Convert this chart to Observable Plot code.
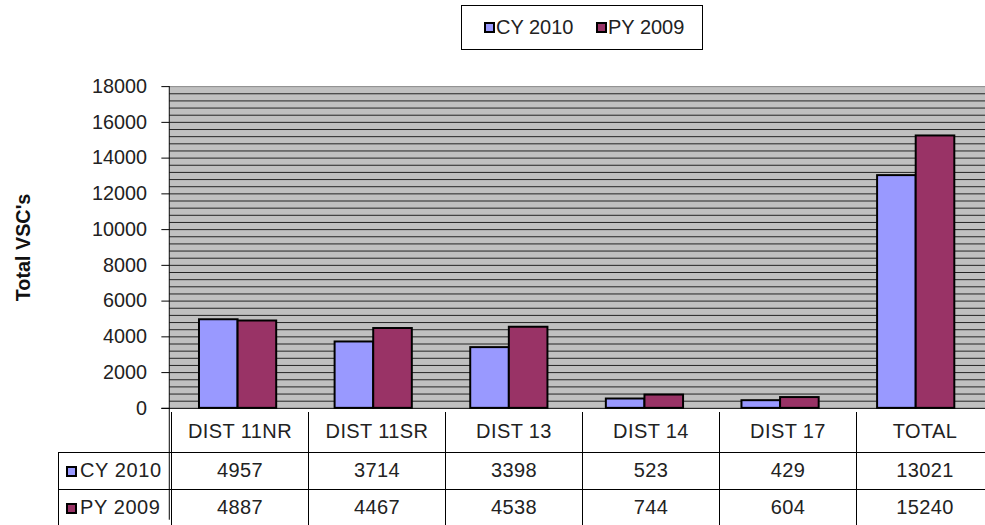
<!DOCTYPE html>
<html>
<head>
<meta charset="utf-8">
<script src="https://cdn.jsdelivr.net/npm/d3@7"></script>
<script src="https://cdn.jsdelivr.net/npm/@observablehq/plot@0.6"></script>
<style>
  html, body { margin: 0; padding: 0; overflow: hidden; background: #fff; }
  #wrap { position: relative; width: 985px; height: 525px; overflow: hidden; font-family: "Liberation Sans", Arial, sans-serif; color: #222; }
  #chart { position: absolute; left: 0; top: 0; }
  #legend { position: absolute; left: 461px; top: 5px; width: 240px; height: 43px; border: 1px solid #000; box-sizing: content-box; font-size: 20px; }
  .li { position: absolute; top: 10px; display: flex; align-items: center; white-space: nowrap; }
  .sw { width: 7px; height: 7px; border: 2px solid #000; margin-right: 1px; display: inline-block; }
  #tbl { position: absolute; left: 58px; top: 412px; border-collapse: collapse; table-layout: fixed; font-size: 20px; letter-spacing: 0.4px; }
  #tbl td { border: 1px solid #000; padding: 0; text-align: center; overflow: hidden; white-space: nowrap; }
  #tbl td.blank { border-left: none; border-top: none; }
  #tbl tr.head td { border-top: none; }
  #tbl td.lab { text-align: left; padding-left: 7px; letter-spacing: 0.6px; }
  #tbl td.lab .sw { vertical-align: 0px; margin-right: 3px; }
</style>
</head>
<body>
<div id="wrap">
  <div id="chart"></div>
  <div id="legend"></div>
  <table id="tbl"></table>
</div>
<script>
const categories = ["DIST 11NR", "DIST 11SR", "DIST 13", "DIST 14", "DIST 17", "TOTAL"];
const seriesNames = ["CY 2010", "PY 2009"];
const seriesColors = ["#9999FF", "#993366"];
const cy2010 = [4957, 3714, 3398, 523, 429, 13021];
const py2009 = [4887, 4467, 4538, 744, 604, 15240];
const yTicks = [0, 2000, 4000, 6000, 8000, 10000, 12000, 14000, 16000, 18000];
const yLabel = "Total VSC's";

const gridStep = 400;
const gridLines = d3.range(gridStep, 18000, gridStep);

const cyData = categories.map((c, i) => ({cat: c, value: cy2010[i]}));
const pyData = categories.map((c, i) => ({cat: c, value: py2009[i]}));

const plot = Plot.plot({
  width: 995,
  height: 525,
  marginLeft: 171,
  marginRight: 0,
  marginTop: 87,
  marginBottom: 113,
  style: {fontFamily: "'Liberation Sans', Arial, sans-serif", fontSize: "20px", color: "#222", background: "transparent"},
  x: {type: "band", domain: categories, paddingInner: 0, paddingOuter: 0, axis: null},
  y: {domain: [0, 18000], axis: null},
  marks: [
    Plot.frame({fill: "#c0c0c0", stroke: null}),
    Plot.ruleY(gridLines, {stroke: "#222", strokeWidth: 1}),
    Plot.ruleY([18000], {stroke: "#888", strokeWidth: 1}),
    Plot.barY(cyData, {x: "cat", y: "value", fill: seriesColors[0], stroke: "#000", strokeWidth: 2, insetLeft: 29, insetRight: 69}),
    Plot.barY(pyData, {x: "cat", y: "value", fill: seriesColors[1], stroke: "#000", strokeWidth: 2, insetLeft: 68, insetRight: 30}),
    Plot.axisY({ticks: yTicks, tickSize: 8, tickPadding: 15, tickFormat: d => String(d), label: null, stroke: "#000", fill: "#222", fontSize: 20}),
    Plot.text([yLabel], {frameAnchor: "left", textAnchor: "middle", dx: -148, rotate: -90, fontWeight: "bold", fontSize: 20, fill: "#111"})
  ]
});
document.getElementById("chart").appendChild(plot);
const svg = d3.select(plot);
const ys = plot.scale("y");
const xs = plot.scale("x");
// left axis line (continues down into the data table) and baseline
svg.append("line")
  .attr("x1", 171).attr("x2", 171)
  .attr("y1", ys.apply(18000)).attr("y2", 525)
  .attr("stroke", "#000");
svg.append("line")
  .attr("x1", 163).attr("x2", 995)
  .attr("y1", ys.apply(0) + 0.5).attr("y2", ys.apply(0) + 0.5)
  .attr("stroke", "#000");

// legend
const legend = document.getElementById("legend");
const legendX = [22, 134];
seriesNames.forEach((n, i) => {
  const d = document.createElement("div");
  d.className = "li";
  d.style.left = legendX[i] + "px";
  d.innerHTML = `<span class="sw" style="background:${seriesColors[i]}"></span><span>${n}</span>`;
  legend.appendChild(d);
});

// data table
const tbl = document.getElementById("tbl");
const bw = xs.bandwidth;
let html = `<colgroup><col style="width:113px">${categories.map(() => `<col style="width:${bw}px">`).join("")}</colgroup>`;
html += `<tr class="head" style="height:40px"><td class="blank"></td>${categories.map(c => `<td>${c}</td>`).join("")}</tr>`;
[cy2010, py2009].forEach((arr, i) => {
  html += `<tr style="height:37px"><td class="lab"><span class="sw" style="background:${seriesColors[i]}"></span>${seriesNames[i]}</td>${arr.map(v => `<td>${v}</td>`).join("")}</tr>`;
});
tbl.innerHTML = html;
tbl.style.width = (113 + bw * categories.length) + "px";
</script>
</body>
</html>
